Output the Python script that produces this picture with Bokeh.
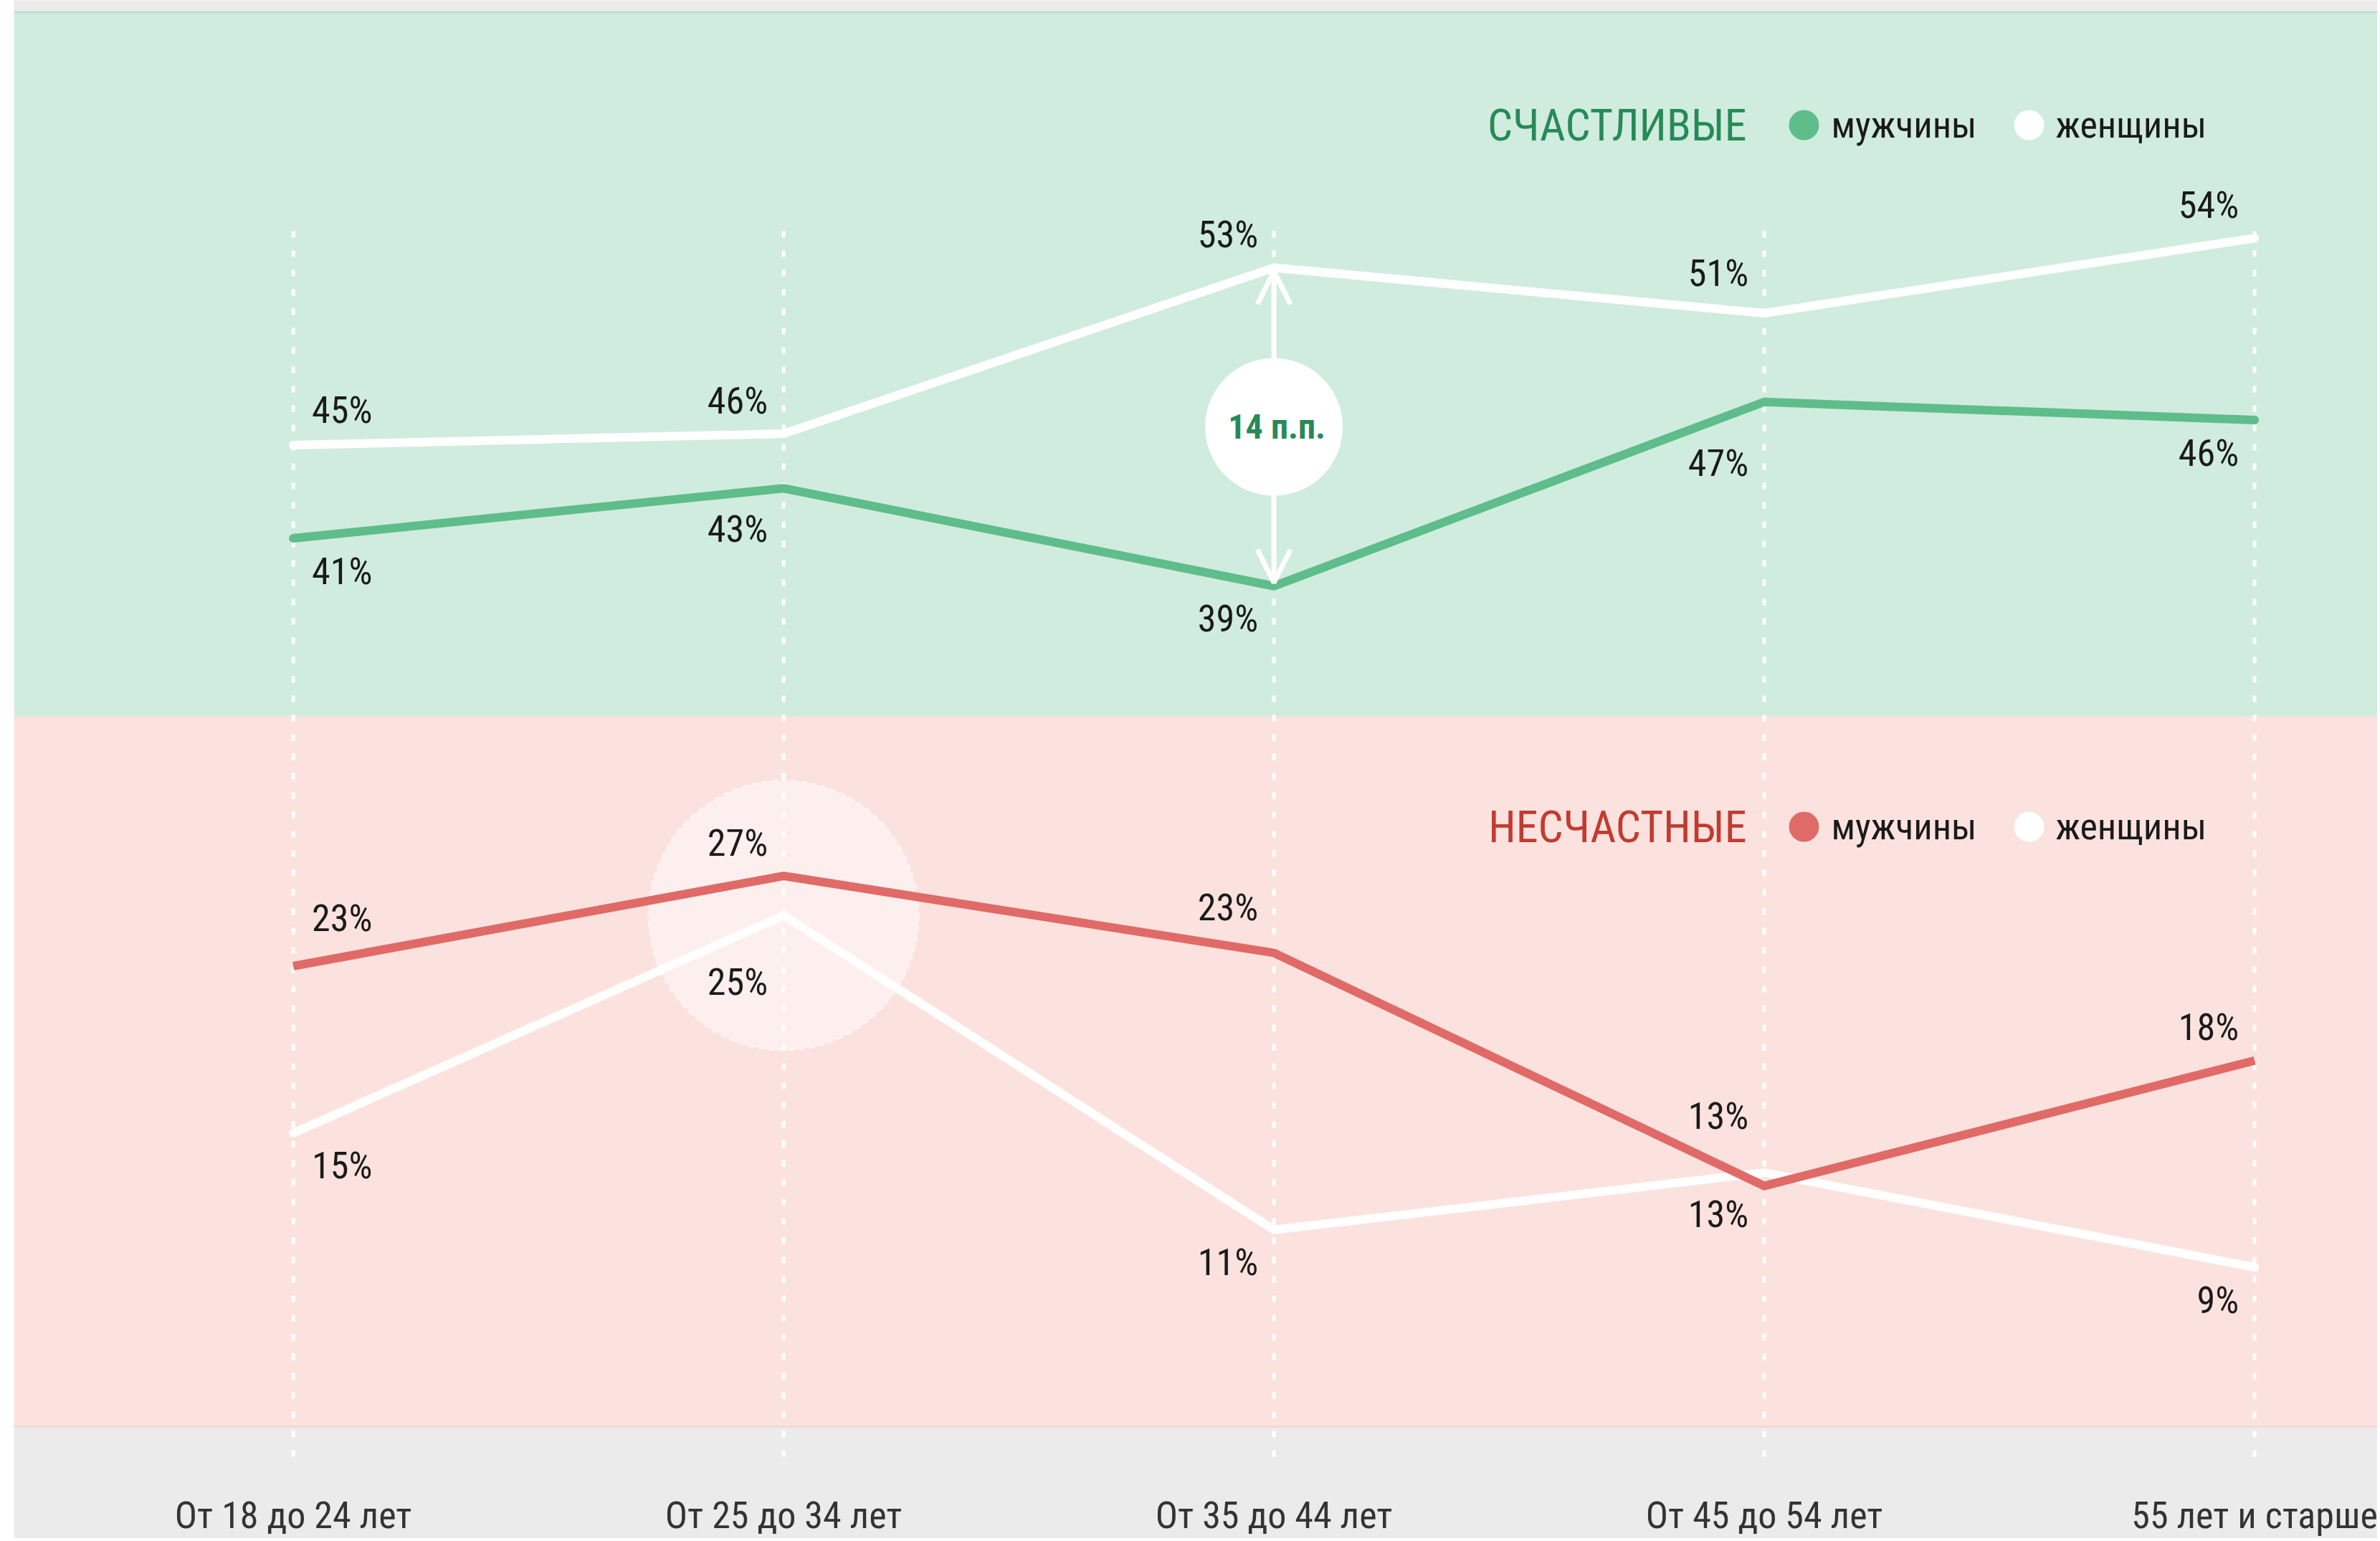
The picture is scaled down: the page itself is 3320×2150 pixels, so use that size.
from bokeh.plotting import figure
from bokeh.models import Range1d, ColumnDataSource, Arrow, OpenHead
from bokeh.core.properties import value
from bokeh.embed import file_html
from bokeh.resources import INLINE

# ---------------- data ----------------
categories = ["От 18 до 24 лет", "От 25 до 34 лет", "От 35 до 44 лет",
              "От 45 до 54 лет", "55 лет и старше"]
happy_men = [41.0, 43.2, 38.9, 47.0, 46.2]
happy_women = [45.1, 45.6, 52.9, 50.9, 54.2]
unhappy_men = [22.7, 26.8, 23.3, 12.7, 18.4]
unhappy_women = [15.1, 25.0, 10.7, 13.3, 9.0]
happy_men_labels = ["41%", "43%", "39%", "47%", "46%"]
happy_women_labels = ["45%", "46%", "53%", "51%", "54%"]
unhappy_men_labels = ["23%", "27%", "23%", "13%", "18%"]
unhappy_women_labels = ["15%", "25%", "11%", "13%", "9%"]
title_happy = "СЧАСТЛИВЫЕ"
title_unhappy = "НЕСЧАСТНЫЕ"
legend_men = "мужчины"
legend_women = "женщины"
gap_index = 2
gap_text = "%d п.п." % (int(happy_women_labels[gap_index][:-1]) - int(happy_men_labels[gap_index][:-1]))
highlight_index = 1

# ---------------- style ----------------
FONT = value("'Roboto Condensed', 'Liberation Sans Narrow', 'DejaVu Sans Condensed', Roboto")
GRAY = "#ebebeb"
GREEN_BG = "#d0ecde"
PINK_BG = "#fce2de"
GREEN = "#5ebd8a"
RED = "#e06a67"
GREEN_DARK = "#268a57"
RED_DARK = "#c23b30"
TXT = "#1a1a1a"

W, H = 3316, 2146
LEFT = 19
p = figure(width=W, height=H, output_backend="svg", toolbar_location=None,
           x_range=Range1d(LEFT, W), y_range=Range1d(H, 0),
           x_axis_type=None, y_axis_type=None,
           min_border_left=LEFT, min_border_right=0, min_border_top=0, min_border_bottom=0,
           background_fill_color=GRAY, border_fill_color="white", outline_line_color=None)
p.grid.visible = False
cat_range = Range1d(-0.5696, 4.2506)
happy_range = Range1d(-2.99, 64.66)
unhappy_range = Range1d(-3.34, 66.63)
p.extra_x_ranges = {"cat": cat_range}
p.extra_y_ranges = {"happy": happy_range, "unhappy": unhappy_range}

idx = list(range(len(categories)))
px_per_cat = (W - LEFT) / (cat_range.end - cat_range.start)

# background bands
p.quad(left=LEFT, right=W, top=16, bottom=999, fill_color=GREEN_BG, line_color=None)
p.quad(left=LEFT, right=W, top=999, bottom=1990, fill_color=PINK_BG, line_color=None)
p.segment(x0=LEFT, x1=W, y0=16.5, y1=16.5, line_color="#bcd9cb", line_width=2)
p.segment(x0=LEFT, x1=W, y0=1990, y1=1990, line_color="#f0d2ce", line_width=2)

# highlight circle (behind dashed lines)
p.scatter(x=[highlight_index], y=[unhappy_women[highlight_index]], size=376, marker="circle",
          fill_color="#fdefee", line_color="#fdf4f3", line_width=3, line_dash="8 6",
          x_range_name="cat", y_range_name="unhappy")

# dashed verticals
p.segment(x0=idx, x1=idx, y0=[322] * 5, y1=[2040] * 5, line_color="white",
          line_width=5, line_dash="9 18", x_range_name="cat")

# lines
p.line(idx, happy_women, line_color="white", line_width=12, line_join="miter",
       line_cap="round", x_range_name="cat", y_range_name="happy")
p.line(idx, happy_men, line_color=GREEN, line_width=12, line_join="miter",
       line_cap="round", x_range_name="cat", y_range_name="happy")
p.line(idx, unhappy_women, line_color="white", line_width=12, line_join="miter",
       line_cap="round", x_range_name="cat", y_range_name="unhappy")
p.line(idx, unhappy_men, line_color=RED, line_width=12, line_join="miter",
       line_cap="butt", x_range_name="cat", y_range_name="unhappy")

# value labels: offset grows where the neighbouring segment runs into the label
def add_labels(vals, labels, rng, rng_name, above):
    px_per_unit = H / (rng.end - rng.start)
    xs_off, ys_off, aligns = [], [], []
    for i in idx:
        j = i - 1 if i > 0 else i + 1
        far = 111 if i == 0 else 107
        slope = (vals[j] - vals[i]) * px_per_unit / px_per_cat
        intr = max(0.0, slope * far) if above else max(0.0, -slope * far)
        base = 46 + intr
        ys_off.append(-base if above else base)
        xs_off.append(26 if i == 0 else -22)
        aligns.append("left" if i == 0 else "right")
    src = ColumnDataSource(dict(x=idx, y=vals, text=labels, align=aligns,
                                xoff=xs_off, yoff=ys_off))
    p.text(x="x", y="y", text="text", source=src, text_align="align", x_offset="xoff",
           y_offset="yoff", text_baseline="middle", text_font=FONT,
           text_font_size="52px", text_color=TXT, x_range_name="cat", y_range_name=rng_name)

add_labels(happy_women, happy_women_labels, happy_range, "happy", True)
add_labels(happy_men, happy_men_labels, happy_range, "happy", False)
add_labels(unhappy_men, unhappy_men_labels, unhappy_range, "unhappy", True)
add_labels(unhappy_women, unhappy_women_labels, unhappy_range, "unhappy", False)

# gap arrow
mid = (happy_women[gap_index] + happy_men[gap_index]) / 2
tips = (happy_women[gap_index] - 0.15, happy_men[gap_index] + 0.15)
p.segment(x0=[gap_index, gap_index], x1=[gap_index, gap_index], y0=[mid, mid],
          y1=list(tips), line_color="white", line_width=7,
          x_range_name="cat", y_range_name="happy")
for tip in tips:
    p.add_layout(Arrow(end=OpenHead(size=46, line_color="white", line_width=7),
                       x_start=gap_index, x_end=gap_index, y_start=mid, y_end=tip,
                       line_alpha=0, x_range_name="cat", y_range_name="happy"))
p.scatter(x=[gap_index], y=[mid], size=192, marker="circle", fill_color="white",
          line_color=None, x_range_name="cat", y_range_name="happy")
p.text(x=[gap_index], y=[mid], text=[gap_text], text_align="center", text_baseline="middle",
       x_offset=4, text_font=FONT, text_font_size="48px", text_font_style="bold",
       text_color=GREEN_DARK, x_range_name="cat", y_range_name="happy")

# legends
for ly, title, tcol, mcol in ((174, title_happy, GREEN_DARK, GREEN),
                               (1153, title_unhappy, RED_DARK, RED)):
    p.text(x=[2436], y=[ly], text=[title], text_align="right", text_baseline="middle",
           text_font=FONT, text_font_size="62px", text_color=tcol)
    p.scatter(x=[2516, 2830], y=[ly, ly], size=42, marker="circle",
              fill_color=[mcol, "white"], line_color=None)
    p.text(x=[2554, 2867], y=[ly, ly], text=[legend_men, legend_women], text_align="left",
           text_baseline="middle", text_font=FONT, text_font_size="52px", text_color=TXT)

# category labels
p.text(x=idx, y=[2114] * 5, text=categories, text_align="center", text_baseline="middle",
       text_font=FONT, text_font_size="52px", text_color="#333333", x_range_name="cat")

open("out.html", "w").write(file_html(p, INLINE))
